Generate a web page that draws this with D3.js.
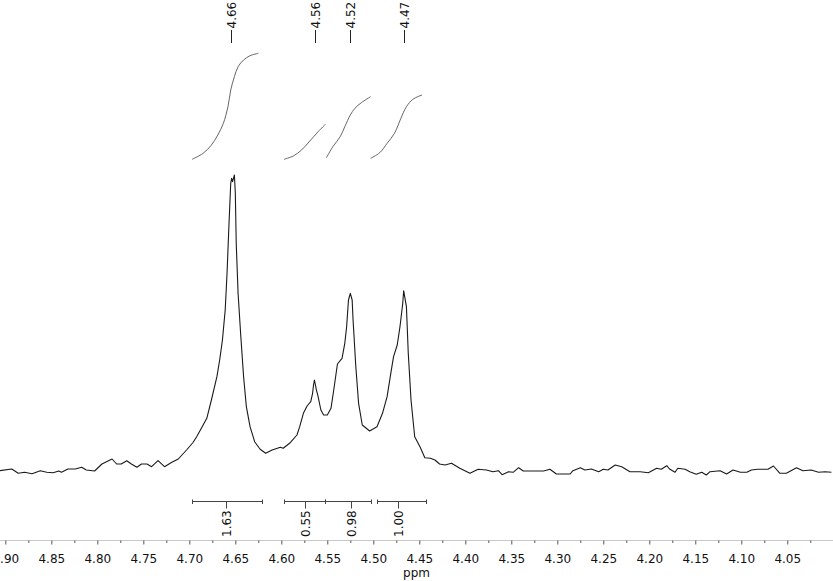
<!DOCTYPE html>
<html>
<head>
<meta charset="utf-8">
<script src="https://cdn.jsdelivr.net/npm/d3@7"></script>
<style>
  html, body { margin: 0; padding: 0; background: #fff; }
  svg { display: block; font-family: "DejaVu Sans", Verdana, sans-serif; }
</style>
</head>
<body>
<svg id="chart" width="833" height="581"></svg>
<script>
// ---- spectrum trace (chemical shift in ppm, intensity in arbitrary units) ----
const ppm = [4.906,4.893,4.886,4.879,4.871,4.862,4.855,4.848,4.842,4.839,4.832,4.824,4.817,4.812,4.803,
  4.795,4.784,4.779,4.774,4.768,4.763,4.757,4.752,4.746,4.741,4.734,4.727,4.719,4.712,4.703,4.696,4.692,
  4.685,4.681,4.676,4.670,4.667,4.664,4.661,4.659,4.657,4.655,4.654,4.653,4.651,4.650,4.649,4.647,4.644,
  4.641,4.638,4.634,4.629,4.623,4.617,4.610,4.601,4.598,4.591,4.583,4.580,4.576,4.572,4.568,4.566,4.565,
  4.564,4.562,4.560,4.557,4.554,4.550,4.546,4.543,4.539,4.534,4.531,4.529,4.527,4.525,4.523,4.522,4.519,
  4.516,4.512,4.504,4.496,4.490,4.485,4.481,4.478,4.474,4.471,4.468,4.467,4.464,4.462,4.459,4.455,4.449,
  4.444,4.438,4.433,4.428,4.422,4.415,4.406,4.395,4.386,4.377,4.370,4.364,4.360,4.353,4.348,4.342,4.337,
  4.326,4.315,4.308,4.301,4.293,4.286,4.283,4.275,4.270,4.263,4.255,4.250,4.245,4.237,4.230,4.221,4.210,
  4.201,4.192,4.187,4.181,4.178,4.172,4.169,4.161,4.156,4.149,4.143,4.138,4.134,4.123,4.116,4.109,4.101,
  4.094,4.089,4.082,4.071,4.065,4.058,4.051,4.040,4.033,4.024,4.016,4.009,4.002];
const intensity = [-0.7,1,-3.3,-2.3,-3.7,-0.7,-2.3,-2.7,-1,-2.3,1,1,2.7,0,-1,
  6,11,6,6,9.3,6,2.7,6,6,3.3,9.3,3.3,7.7,11,20,27.5,33.3,
  45,51.7,70,93.3,110,130,160,196.7,243.3,286.7,291.7,288.3,295,276.7,226.7,176.7,133.3,
  93.3,63.3,43.3,28.3,20.7,16.7,20,22.7,21.7,26.7,35,43.3,56.7,64,68.3,76.7,85,
  90,80.7,73.3,60,55,55,61.7,80,106,111.7,126.7,143.3,170,176.7,170,150,103.3,
  66.7,45,39,43.3,56.7,73.3,96.7,113.3,125,143.3,166.7,179.3,163.3,116.7,70,33.3,22.7,
  12.3,11.7,10,6,5,6.7,1.7,-3.3,0.7,0,-1.7,-0.7,-4.7,-1.7,-2.3,2.3,-1,
  -1,-1,0.7,-4,-4,-4,-0.7,2.3,0,1,-1.7,0.7,0,5,3.3,-1.7,-1.7,
  -2.7,1.7,0.7,4.3,1,-2.3,1.7,0.7,-1.7,-4.3,-2.3,-5,-1.7,-0.7,-4,0,-2.3,
  -2.3,0,0.7,0.7,4,-3.3,-3.3,2.3,-0.7,0,-2.3,-1.7,-2.3];

// ---- integral curves (cumulative integral, arbitrary units) ----
const int1Ppm = [4.697,4.685,4.676,4.669,4.663,4.658,4.655,4.651,4.647,4.641,4.634,4.625];
const int1Val = [0.7,6.7,15,25,36.7,53.3,70,83.3,93.3,100,104.3,106.7];
const int2Ppm = [4.597,4.587,4.578,4.569,4.560,4.552];
const int2Val = [0.7,4,10,19,28.3,35.7];
const int3Ppm = [4.551,4.544,4.536,4.531,4.525,4.520,4.513,4.503];
const int3Val = [2.3,13.3,23.3,33.3,45,51.7,57.3,63.3];
const int4Ppm = [4.503,4.493,4.485,4.477,4.470,4.464,4.457,4.447];
const int4Val = [1.7,7.3,16.7,26.7,41.7,53.3,60.7,65];

// ---- integration ranges and values ----
const intFrom   = [4.697, 4.597, 4.552, 4.496];
const intTo     = [4.621, 4.552, 4.503, 4.443];
const intCenter = [4.660, 4.574, 4.524, 4.473];
const intLabels = ["1.63", "0.55", "0.98", "1.00"];

// ---- peak picking labels ----
const peakPpm    = [4.655, 4.5637, 4.525, 4.467];
const peakLabels = ["4.66", "4.56", "4.52", "4.47"];

// ---- axis ticks ----
const majorTicks = [4.90,4.85,4.80,4.75,4.70,4.65,4.60,4.55,4.50,4.45,4.40,4.35,4.30,4.25,4.20,4.15,4.10,4.05];
const minorTicks = [4.875,4.825,4.775,4.725,4.675,4.625,4.575,4.525,4.475,4.425,4.375,4.325,4.275,4.225,4.175,4.125,4.075,4.025];
const axisTitle = "ppm";

// ---------------------------------------------------------------------------
const W = 833, H = 581;
const svg = d3.select("#chart");

const x = d3.scaleLinear().domain([4.9058, 4.0003]).range([0, W]);
const y = d3.scaleLinear().domain([0, 300]).range([470, 170]);
const yInt = d3.scaleLinear().domain([0, 110]).range([160, 50]);

// spectrum
const spec = ppm.map((p, i) => [p, intensity[i]]);
svg.append("path")
  .datum(spec)
  .attr("fill", "none")
  .attr("stroke", "#1a1a1a")
  .attr("stroke-width", 1.1)
  .attr("stroke-linejoin", "round")
  .attr("d", d3.line().x(d => x(d[0])).y(d => y(d[1])));

// integral curves
const intCurves = [[int1Ppm, int1Val], [int2Ppm, int2Val], [int3Ppm, int3Val], [int4Ppm, int4Val]];
const intLine = d3.line().x(d => x(d[0])).y(d => yInt(d[1])).curve(d3.curveCatmullRom.alpha(0.5));
intCurves.forEach(([ps, vs]) => {
  svg.append("path")
    .datum(ps.map((p, i) => [p, vs[i]]))
    .attr("fill", "none")
    .attr("stroke", "#555")
    .attr("stroke-width", 0.9)
    .attr("d", intLine);
});

// peak labels
const peaks = svg.append("g");
peakPpm.forEach((p, i) => {
  const px = Math.round(x(p)) + 0.5;
  peaks.append("line")
    .attr("x1", px).attr("x2", px).attr("y1", 30).attr("y2", 43)
    .attr("stroke", "#222").attr("stroke-width", 1);
  peaks.append("text")
    .attr("transform", `translate(${px},28.5) rotate(-90)`)
    .attr("text-anchor", "start")
    .attr("dy", "0.36em")
    .attr("font-size", 12)
    .attr("fill", "#111")
    .text(peakLabels[i]);
});

// integral bars
const bars = svg.append("g");
const barY = 501.5;
intFrom.forEach((f, i) => {
  const x1 = Math.round(x(f)) + 0.5, x2 = Math.round(x(intTo[i])) + 0.5, xc = Math.round(x(intCenter[i])) + 0.5;
  bars.append("line").attr("x1", x1).attr("x2", x2).attr("y1", barY).attr("y2", barY)
    .attr("stroke", "#444").attr("stroke-width", 1);
  [x1, x2].forEach(xx => bars.append("line").attr("x1", xx).attr("x2", xx)
    .attr("y1", barY - 2).attr("y2", barY + 2.5).attr("stroke", "#444").attr("stroke-width", 1));
  bars.append("line").attr("x1", xc).attr("x2", xc).attr("y1", barY).attr("y2", barY + 7)
    .attr("stroke", "#444").attr("stroke-width", 1);
  bars.append("text")
    .attr("transform", `translate(${xc},537) rotate(-90)`)
    .attr("text-anchor", "start")
    .attr("dy", "0.36em")
    .attr("font-size", 12)
    .attr("fill", "#111")
    .text(intLabels[i]);
});

// x axis
const axisY = 540.5;
const gAxis = svg.append("g").attr("transform", `translate(0,${axisY})`);
gAxis.append("line").attr("x1", 0).attr("x2", W).attr("y1", 0).attr("y2", 0)
  .attr("stroke", "#c8c8c8").attr("stroke-width", 1);
const minorAxis = d3.axisBottom(x).tickValues(minorTicks).tickSize(2.5).tickFormat("");
const majorAxis = d3.axisBottom(x).tickValues(majorTicks).tickSize(4).tickPadding(10)
  .tickFormat(d3.format(".2f"));
const gMinor = gAxis.append("g").call(minorAxis);
const gMajor = gAxis.append("g").call(majorAxis);
[gMinor, gMajor].forEach(g => {
  g.select(".domain").remove();
  g.selectAll(".tick line").attr("stroke", "#555");
});
gMajor.selectAll(".tick text")
  .attr("font-size", 12)
  .attr("font-family", "DejaVu Sans, Verdana, sans-serif")
  .attr("fill", "#111");

svg.append("text")
  .attr("x", W / 2).attr("y", 577)
  .attr("text-anchor", "middle")
  .attr("font-size", 12)
  .attr("fill", "#111")
  .text(axisTitle);
</script>
</body>
</html>
